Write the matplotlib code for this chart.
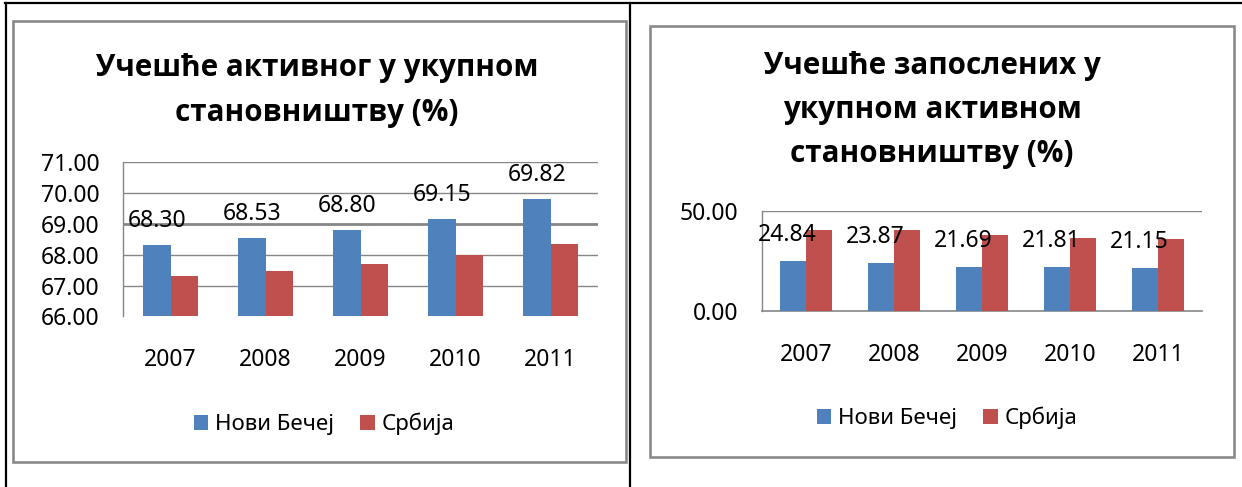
import matplotlib
matplotlib.use("Agg")
import matplotlib.pyplot as plt
from matplotlib.patches import Rectangle
from matplotlib.lines import Line2D
import numpy as np

plt.rcParams['font.family'] = ['Noto Sans', 'DejaVu Sans']

# données
years = ['2007', '2008', '2009', '2010', '2011']
series_names = ['Нови Бечеј', 'Србија']

active_nb = [68.30, 68.53, 68.80, 69.15, 69.82]
active_srb = [67.31, 67.47, 67.69, 67.98, 68.34]

employed_nb = [24.84, 23.87, 21.69, 21.81, 21.15]
employed_srb = [40.2, 40.2, 37.7, 36.3, 35.7]

title_left = ['Учешће активног у укупном', 'становништву (%)']
title_right = ['Учешће запослених у', 'укупном активном', 'становништву (%)']

BLUE = '#4F81BD'
RED = '#C0504D'
GRID = '#868686'

W, H = 1242, 487
fig = plt.figure(figsize=(W / 100, H / 100), dpi=100)


def fx(px):
    return px / W


def fy(py):
    return 1 - py / H


# bordures du tableau
for xs, ys in [([5, 1241], [3, 3]), ([5.5, 5.5], [3, 487]), ([630, 630], [3, 487])]:
    fig.add_artist(Line2D([fx(x) for x in xs], [fy(y) for y in ys],
                          color='black', lw=1.6, transform=fig.transFigure))

# cadres gris des graphiques
for x0, y0, x1, y1 in [(12.5, 21, 626, 462), (650, 26, 1234, 456.5)]:
    fig.add_artist(Rectangle((fx(x0), fy(y1)), fx(x1) - fx(x0), fy(y0) - fy(y1),
                             fill=False, ec='#8a8a8a', lw=1.9, transform=fig.transFigure))


def draw_chart(rect, nb, srb, yticks, width, lab_dx, lab_dy, title, title_x, title_y,
               leg_xy, bottom_line, thick_grid=None):
    ax = fig.add_axes([fx(rect[0]), fy(rect[3]), fx(rect[2]) - fx(rect[0]), fy(rect[1]) - fy(rect[3])])
    x = np.arange(len(years))
    b1 = ax.bar(x - width / 2, nb, width, bottom=0, color=BLUE, label=series_names[0], zorder=3)
    b2 = ax.bar(x + width / 2, srb, width, color=RED, label=series_names[1], zorder=3)
    ax.set_xlim(-0.5, len(years) - 0.5)
    ax.set_ylim(yticks[0], yticks[-1])
    ax.set_yticks(yticks)
    ax.set_yticklabels([f'{t:.2f}' for t in yticks])
    ax.set_xticks(x)
    ax.set_xticklabels(years)
    ax.tick_params(axis='y', length=0, pad=17, labelsize=16.5, labelcolor='black')
    ax.tick_params(axis='x', length=0, pad=23, labelsize=16.5, labelcolor='black')
    for t in yticks[1:]:
        lw = 2 if t == thick_grid else 1
        ax.axhline(t, color=GRID, lw=lw, zorder=1)
    for s in ['top', 'right']:
        ax.spines[s].set_visible(False)
    ax.spines['left'].set_color(GRID)
    ax.spines['left'].set_linewidth(1)
    ax.spines['bottom'].set_visible(bottom_line)
    ax.spines['bottom'].set_color(GRID)
    ax.spines['bottom'].set_linewidth(1.2)
    # étiquettes de valeurs (série Нови Бечеј)
    for xi, v in zip(x, nb):
        ax.annotate(f'{v:.2f}', xy=(xi - width / 2, v), xytext=(lab_dx, lab_dy),
                    textcoords='offset points', ha='center', va='baseline',
                    fontsize=16.5, color='black', zorder=5)
    for line, yy in zip(title, title_y):
        fig.text(fx(title_x), fy(yy), line, ha='center', va='baseline',
                 fontsize=21.3, fontweight='bold', color='black',
                 family=['Open Sans', 'Roboto', 'DejaVu Sans'])
    ax.legend([b1, b2], series_names, loc='center',
              bbox_to_anchor=(fx(leg_xy[0]), fy(leg_xy[1])), bbox_transform=fig.transFigure,
              ncol=2, frameon=False, fontsize=16, handlelength=0.65, handleheight=0.65,
              handletextpad=0.3, columnspacing=1.2)
    return ax


draw_chart((123, 162.3, 598, 316.3), active_nb, active_srb, [66, 67, 68, 69, 70, 71],
           0.286, 0, 13, title_left, 317, [76, 121], (324, 424), False, thick_grid=69)
draw_chart((762, 210.7, 1202, 310.7), employed_nb, employed_srb, [0, 50],
           0.29, -4.5, 14.5, title_right, 932, [74, 118, 162], (947, 418), True)

fig.savefig('out.png', dpi=100)
